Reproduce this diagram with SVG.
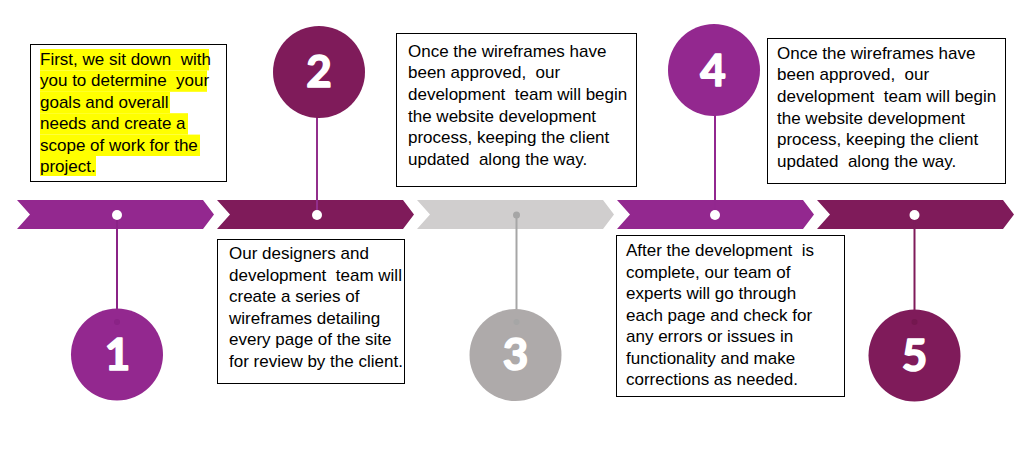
<svg xmlns="http://www.w3.org/2000/svg" width="1025" height="456" viewBox="0 0 1025 456">
<style>
.box{fill:#fff;stroke:#000;stroke-width:1}
.t{font-family:"Liberation Sans",Arial,sans-serif;font-size:17px;fill:#000;white-space:pre}
.num{font-family:Lato,"Open Sans",sans-serif;font-weight:700;font-size:44px;fill:#fff;stroke:#fff;stroke-width:1.6;stroke-linejoin:round;text-anchor:middle}
.hl{fill:#ffff00}
.p1{fill:#93288F}
.p2{fill:#7F1B5A}
.g3{fill:#D0CECE}
.c3{fill:#AEAAAA}
.dot{fill:#fff}
</style>
<defs>
<path id="chev" d="M0,0 L186,0 L197,14.5 L186,29 L0,29 L13,14.5 Z"/>
</defs>
<rect width="1025" height="456" fill="#fff"/>
<g id="timeline">
<use href="#chev" x="17" y="200" class="p1"/>
<use href="#chev" x="217" y="200" class="p2"/>
<use href="#chev" x="417" y="200" class="g3"/>
<use href="#chev" x="617" y="200" class="p1"/>
<use href="#chev" x="817" y="200" class="p2"/>
</g>
<g id="connectors" fill="none" stroke-width="2">
<line x1="117" y1="215" x2="117" y2="322" stroke="#8A2386"/>
<line x1="317" y1="105" x2="317" y2="215" stroke="#922F8C"/>
<line x1="516.5" y1="215" x2="516.5" y2="322" stroke="#A6A6A6"/>
<line x1="715" y1="105" x2="715" y2="215" stroke="#92278F"/>
<line x1="914.5" y1="215" x2="914.5" y2="322" stroke="#7F1B5A"/>
</g>
<g id="node-1">
<circle cx="117" cy="354.5" r="46" class="p1"/>
<circle cx="117" cy="322" r="3" fill="#8A2386"/>
<circle cx="117" cy="215" r="5" class="dot"/>
<text x="117.5" y="369.5" class="num">1</text>
</g>
<g id="node-2">
<circle cx="319" cy="72" r="46" class="p2"/>
<circle cx="317" cy="215" r="5" class="dot"/>
<text x="319" y="87" class="num">2</text>
</g>
<g id="node-3">
<circle cx="515.5" cy="355" r="46" class="c3"/>
<circle cx="516.5" cy="322" r="3" fill="#A6A6A6"/>
<circle cx="516.5" cy="215" r="3.5" fill="#A6A6A6"/>
<text x="515.5" y="370" class="num">3</text>
</g>
<g id="node-4">
<circle cx="714" cy="70" r="46" class="p1"/>
<circle cx="715" cy="215" r="5" class="dot"/>
<text x="713" y="86" class="num">4</text>
</g>
<g id="node-5">
<circle cx="914.5" cy="355.5" r="46" class="p2"/>
<circle cx="914.5" cy="322" r="3" fill="#74174F"/>
<circle cx="914.5" cy="215" r="5" class="dot"/>
<text x="914.5" y="370.5" class="num">5</text>
</g>
<g id="box-1">
<rect x="30.5" y="44.5" width="196" height="137" class="box"/>
<rect x="40" y="49" width="169" height="21.4" class="hl"/>
<rect x="40" y="70.4" width="167" height="21.4" class="hl"/>
<rect x="40" y="91.8" width="130" height="21.4" class="hl"/>
<rect x="40" y="113.2" width="148" height="21.4" class="hl"/>
<rect x="40" y="134.6" width="160" height="21.4" class="hl"/>
<rect x="40" y="156" width="56" height="20" class="hl"/>
<text class="t" x="40" y="65">First, we sit down  with</text>
<text class="t" x="40" y="86.4">you to determine  your</text>
<text class="t" x="40" y="107.8">goals and overall</text>
<text class="t" x="40" y="129.2">needs and create a</text>
<text class="t" x="40" y="150.6">scope of work for the</text>
<text class="t" x="40" y="172">project.</text>
</g>
<g id="box-2">
<rect x="217.5" y="239.5" width="187" height="144" class="box"/>
<text class="t" x="229" y="259">Our designers and</text>
<text class="t" x="229" y="280.5">development  team will</text>
<text class="t" x="229" y="302">create a series of</text>
<text class="t" x="229" y="323.5">wireframes detailing</text>
<text class="t" x="229" y="345">every page of the site</text>
<text class="t" x="229" y="366.5">for review by the client.</text>
</g>
<g id="box-3">
<rect x="396.5" y="33.5" width="240" height="153" class="box"/>
<text class="t" x="408" y="56.5">Once the wireframes have</text>
<text class="t" x="408" y="78.2">been approved,  our</text>
<text class="t" x="408" y="99.8">development  team will begin</text>
<text class="t" x="408" y="121.5">the website development</text>
<text class="t" x="408" y="143.2">process, keeping the client</text>
<text class="t" x="408" y="164.8">updated  along the way.</text>
</g>
<g id="box-4">
<rect x="767.5" y="38.5" width="238" height="145" class="box"/>
<text class="t" x="777" y="58.5">Once the wireframes have</text>
<text class="t" x="777" y="80.2">been approved,  our</text>
<text class="t" x="777" y="101.8">development  team will begin</text>
<text class="t" x="777" y="123.5">the website development</text>
<text class="t" x="777" y="145.2">process, keeping the client</text>
<text class="t" x="777" y="166.8">updated  along the way.</text>
</g>
<g id="box-5">
<rect x="616.5" y="235.5" width="228" height="161" class="box"/>
<text class="t" x="626" y="256">After the development  is</text>
<text class="t" x="626" y="277.5">complete, our team of</text>
<text class="t" x="626" y="299">experts will go through</text>
<text class="t" x="626" y="320.5">each page and check for</text>
<text class="t" x="626" y="342">any errors or issues in</text>
<text class="t" x="626" y="363.5">functionality and make</text>
<text class="t" x="626" y="385">corrections as needed.</text>
</g>
</svg>
